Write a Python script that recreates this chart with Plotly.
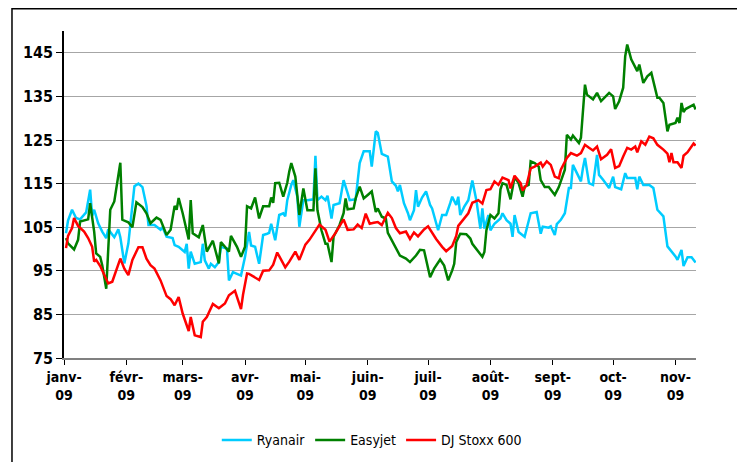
import pandas as pd
import plotly.graph_objects as go

# days counted from 1 Jan 2009, values indexed (base 100)
ryanair_days = [1, 2, 4, 6, 8, 11, 13, 14, 15, 17, 19, 21, 22, 25, 27, 28, 30, 32, 35, 37, 39, 41, 42, 45, 48, 49,
                51, 54, 55, 57, 60, 61, 62, 63, 65, 68, 69, 70, 72, 73, 75, 77, 78, 81, 82, 84, 86, 88, 90, 92, 93,
                95, 97, 99, 101, 102, 103, 105, 107, 109, 110, 111, 113, 114, 116, 117, 119, 121, 124, 125, 126, 128,
                130, 131, 133, 134, 137, 139, 141, 142, 145, 147, 149, 152, 153, 155, 156, 157, 158, 161, 163, 165,
                166, 167, 169, 171, 172, 174, 175, 176, 178, 180, 182, 183, 184, 186, 188, 190, 192, 193, 195, 196,
                197, 199, 201, 203, 205, 207, 208, 209, 211, 212, 214, 217, 218, 220, 222, 223, 224, 226, 229, 232,
                235, 237, 238, 241, 242, 244, 245, 247, 249, 251, 252, 253, 255, 257, 258, 259, 261, 263, 265, 266,
                268, 271, 273, 274, 277, 279, 280, 284, 285, 286, 288, 291, 293, 295, 298, 300, 304, 305, 307, 308,
                310, 312, 314]
ryanair = [103.6, 106.5, 109, 107.1, 106.8, 108.4, 113.6, 107.6, 109, 105.9, 104, 102.5, 104.5, 102.7, 104.5, 102.7,
           96.7, 101.3, 114.4, 115, 114.2, 109.9, 105.5, 105.5, 104.4, 105, 102.8, 102.5, 100.9, 100.5, 99.3, 101.2,
           95.5, 99.4, 96.6, 97, 101.2, 97.4, 95.5, 96.6, 95.8, 97, 100.5, 100.1, 92.8, 94.7, 94.3, 93.9, 98.2, 103.9,
           100.8, 100.5, 96.6, 103.2, 103.5, 103.7, 105.8, 102, 107.8, 108.2, 107.5, 111.2, 114.7, 115.8, 112, 105.1,
           111.2, 111.2, 111.4, 121.4, 111.2, 112, 111.2, 112.2, 107, 110.1, 110.5, 115.8, 112.8, 111.2, 111.4, 119.7,
           122.4, 122.4, 118.9, 127, 126.6, 124.3, 121.8, 121.2, 115.5, 114.5, 113.2, 114.7, 110.5, 108.2, 106.6,
           108.9, 113.5, 109.7, 111.8, 113.2, 110.1, 109.3, 107.8, 104.3, 107.8, 107.8, 110.5, 112, 110.1, 112, 107.8,
           109.7, 111.2, 115.7, 111.2, 104.7, 109.3, 104.7, 107.8, 104.3, 105.8, 107, 108.2, 106.6, 105.8, 102.8,
           107.8, 103.9, 102.8, 108.2, 108.5, 103.5, 105.1, 104.9, 105.2, 103.2, 105.7, 106.7, 108.2, 114, 114, 119.3,
           117.4, 115.5, 118.6, 120.9, 115.1, 114.7, 121.6, 117, 115.9, 114, 116.6, 114.2, 113.7, 117.4, 116.3, 116.3,
           113.7, 116.6, 114.7, 114.7, 114, 109, 107.5, 100.6, 98.3, 97.5, 99.8, 96.1, 98.1, 98.1, 96.9]

easyjet_days = [1, 2, 5, 7, 8, 10, 12, 13, 15, 16, 18, 19, 21, 23, 25, 28, 29, 32, 34, 36, 39, 41, 43, 46, 48, 51, 53,
                55, 56, 57, 59, 62, 63, 64, 67, 69, 71, 74, 77, 78, 82, 83, 86, 88, 90, 91, 93, 95, 97, 99, 102, 103,
                104, 105, 107, 109, 111, 112, 113, 115, 117, 119, 121, 124, 125, 126, 128, 130, 131, 133, 134, 137,
                139, 140, 141, 144, 145, 147, 149, 151, 153, 155, 156, 158, 160, 161, 164, 167, 170, 172, 175, 177,
                179, 182, 184, 187, 189, 191, 193, 194, 195, 197, 200, 202, 203, 205, 208, 209, 210, 212, 214, 216,
                217, 218, 220, 222, 224, 226, 228, 229, 231, 232, 234, 236, 237, 239, 241, 244, 246, 249, 250, 252,
                253, 256, 257, 259, 260, 263, 265, 267, 271, 273, 274, 276, 278, 279, 280, 282, 284, 285, 286, 288,
                290, 292, 295, 296, 298, 299, 300, 301, 304, 305, 306, 307, 308, 309, 313, 314]
easyjet = [102.5, 101.3, 99.9, 102.1, 106.3, 106.5, 106.8, 110.5, 104, 99, 98.2, 96.3, 90.9, 109, 110.9, 119.8, 106.7,
           106.1, 105, 110.7, 109.6, 108.2, 105.9, 107.2, 106.7, 103.2, 104.4, 109.9, 109, 111.7, 108.2, 102.2, 111.2,
           103.6, 102.7, 105.5, 99.4, 101.9, 96.7, 101.6, 99.4, 103, 100.5, 98.2, 100.5, 109.8, 109.3, 111.8, 107,
           109.8, 109.8, 111.8, 110.6, 115.1, 115.2, 112, 115.2, 117.8, 119.7, 116.6, 107.8, 113.9, 108.9, 108.9,
           118.5, 108.9, 104.3, 101.2, 101.2, 97, 102.8, 105.5, 108.2, 111.6, 109.1, 109.3, 111.6, 114.3, 111.6,
           112.4, 113.2, 108.5, 109.3, 107.4, 107, 103.7, 101.2, 98.5, 97.8, 97, 98.5, 99.8, 99.7, 93.5, 95.5, 97.6,
           96.2, 92.8, 95.1, 96.6, 101.6, 103.5, 103.4, 102.4, 101.2, 100.1, 98.2, 99.3, 104.3, 107.8, 107, 108.2,
           113.7, 115.1, 114.7, 111.4, 116.5, 115.1, 112, 114.3, 114.7, 120.1, 119.7, 118.9, 115.8, 114.2, 114.2,
           112.4, 114.2, 118.2, 126.2, 125.1, 126, 124.3, 125.5, 137.7, 135.4, 134.3, 135.8, 133.9, 135.8, 135, 132.1,
           133.9, 137, 144.2, 146.9, 143.5, 141.9, 140.8, 142.3, 138.1, 139.6, 140.4, 134.7, 134.7, 133.5, 130.4, 127,
           128.5, 128.9, 130.1, 128.9, 133.5, 131.4, 132.1, 133.1, 132]

stoxx_days = [1, 2, 4, 5, 7, 10, 12, 14, 15, 16, 18, 20, 22, 24, 26, 28, 30, 32, 34, 37, 39, 41, 43, 45, 48, 51, 53,
              55, 57, 59, 62, 63, 65, 68, 69, 71, 74, 77, 80, 82, 85, 88, 89, 91, 92, 97, 99, 102, 104, 106, 108, 110,
              112, 115, 117, 120, 122, 126, 127, 130, 132, 135, 139, 141, 144, 146, 148, 150, 152, 154, 156, 158, 161,
              163, 165, 167, 170, 172, 174, 176, 179, 181, 183, 185, 188, 190, 193, 195, 196, 198, 201, 203, 206, 208,
              210, 212, 214, 216, 218, 221, 222, 224, 227, 228, 230, 232, 234, 237, 238, 240, 242, 244, 246, 247, 250,
              252, 255, 257, 259, 261, 263, 265, 267, 270, 272, 274, 276, 278, 280, 282, 284, 285, 287, 289, 291, 293,
              295, 298, 300, 301, 302, 303, 305, 307, 308, 310, 313, 314]
stoxx = [100.2, 103, 104.8, 107.1, 105.3, 104, 102.5, 100.5, 97.1, 97.5, 96.1, 94, 92.1, 92.5, 95.2, 97.8, 95.5, 94,
         97.5, 100.4, 100.4, 97.8, 96.3, 95.5, 92.8, 89.2, 88.5, 87.1, 89, 85.2, 81.2, 84.4, 80.2, 79.8, 83.3, 84.4,
         87.4, 86.4, 87.5, 89.4, 90.4, 86.2, 89.5, 94.4, 94.3, 92.9, 95, 95.1, 96.4, 99.2, 97.5, 95.8, 97.1, 99.4, 97.5,
         101, 102.1, 104.8, 105.6, 104.4, 101.7, 103.7, 106.8, 104.4, 104.5, 105.6, 104.8, 108.1, 105.8, 106, 106.2,
         105.5, 108.3, 107.1, 104.8, 103.6, 104, 102.3, 103.8, 102.9, 104.5, 105.2, 103.6, 102.3, 100.5, 99.5, 100.7,
         103, 105.3, 106.5, 108.2, 110.6, 111.2, 110.4, 113.5, 113.7, 115.5, 114.7, 116.4, 115.8, 113.9, 116.8, 115.1,
         113.4, 114.7, 118.5, 118.9, 119.8, 118.9, 120.1, 119.3, 116.6, 116.2, 118.2, 120.9, 122, 121.4, 122, 123.9,
         123.2, 122.6, 123.5, 120.6, 121.6, 122.9, 118.6, 119, 121.2, 123.2, 122.8, 123.5, 122.2, 124.7, 123.9, 125.8,
         125.4, 123.9, 122.8, 121.9, 119.9, 122, 119.9, 119.9, 118.6, 121.4, 122.2, 124.2, 123.7]

month_starts = ["2009-01-01", "2009-02-01", "2009-03-01", "2009-04-01", "2009-05-01", "2009-06-01",
                "2009-07-01", "2009-08-01", "2009-09-01", "2009-10-01", "2009-11-01"]
month_labels = ["janv-<br>09", "févr-<br>09", "mars-<br>09", "avr-<br>09", "mai-<br>09", "juin-<br>09",
                "juil-<br>09", "août-<br>09", "sept-<br>09", "oct-<br>09", "nov-<br>09"]
y_ticks = [75, 85, 95, 105, 115, 125, 135, 145]

START = pd.Timestamp("2009-01-01")


def to_dates(days):
    return START + pd.to_timedelta(days, unit="D")


FONT = "Liberation Sans Narrow, DejaVu Sans Condensed, Liberation Sans, Arial, sans-serif"

fig = go.Figure()
fig.add_trace(go.Scatter(x=to_dates(ryanair_days), y=ryanair, mode="lines", name="Ryanair",
                         line=dict(color="#00CCFF", width=2.5)))
fig.add_trace(go.Scatter(x=to_dates(easyjet_days), y=easyjet, mode="lines", name="Easyjet",
                         line=dict(color="#008000", width=2.5)))
fig.add_trace(go.Scatter(x=to_dates(stoxx_days), y=stoxx, mode="lines", name="DJ Stoxx 600",
                         line=dict(color="#FF0000", width=2.5)))

fig.update_layout(
    template="none",
    width=745, height=462,
    margin=dict(l=56, r=57, t=23, b=112, autoexpand=False),
    paper_bgcolor="white", plot_bgcolor="white",
    font=dict(family=FONT, size=14, color="black"),
    showlegend=True,
    legend=dict(orientation="h", x=0.487, xanchor="center", y=-0.252, yanchor="middle",
                font=dict(family=FONT, size=14), itemwidth=30, bgcolor="rgba(0,0,0,0)"),
    xaxis=dict(
        type="date", automargin=False,
        range=[START, START + pd.Timedelta(days=314.2)],
        tickmode="array", tickvals=month_starts, ticktext=month_labels,
        ticks="outside", ticklen=5, tickcolor="black", tickwidth=1,
        showline=True, linecolor="#808080", linewidth=1.5,
        showgrid=False, zeroline=False,
        tickfont=dict(family=FONT, size=14, weight="bold"),
    ),
    yaxis=dict(
        automargin=False,
        range=[75, 150], tickvals=y_ticks,
        ticks="outside", ticklen=6, tickcolor="black", tickwidth=1,
        showline=True, linecolor="black", linewidth=1.5,
        showgrid=True, gridcolor="#A6A6A6", gridwidth=1,
        zeroline=False,
        tickfont=dict(family=FONT, size=16, weight="bold"),
    ),
)

# outer frame around the chart
fig.add_shape(type="rect", xref="paper", yref="paper",
              x0=-0.0823, x1=1.0665, y0=-0.4, y1=1.068,
              line=dict(color="black", width=1.5), fillcolor="rgba(0,0,0,0)", layer="below")

fig.write_html("out.html")
